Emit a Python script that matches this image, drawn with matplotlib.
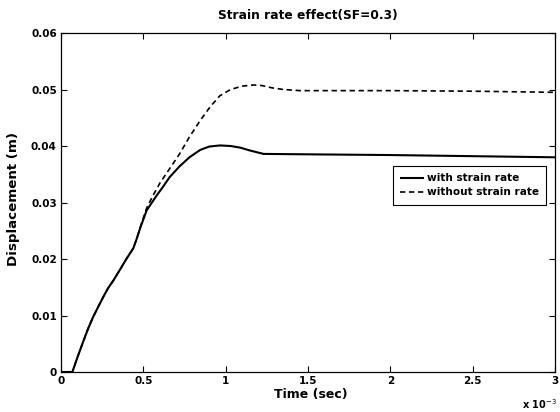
import numpy as np
import matplotlib
matplotlib.use("Agg")
import matplotlib.pyplot as plt
from matplotlib.ticker import FuncFormatter, MultipleLocator

# ---- data (time in ms, displacement in m) ----
t_with_ms = [0.0, 0.069, 0.10, 0.135, 0.165, 0.196, 0.227, 0.257, 0.285, 0.318,
             0.36, 0.399, 0.439, 0.46, 0.48, 0.52, 0.58, 0.62, 0.66, 0.72,
             0.78, 0.845, 0.90, 0.965, 1.03, 1.09, 1.148, 1.23, 1.6, 2.0,
             2.5, 3.0]
d_with = [0.0, 0.0, 0.0026, 0.0054, 0.0077, 0.0098, 0.0116, 0.0133, 0.0148, 0.0162,
          0.0182, 0.0201, 0.0219, 0.0236, 0.0254, 0.0286, 0.0312, 0.0328, 0.0345, 0.0364,
          0.0380, 0.0393, 0.0399, 0.0401, 0.0400, 0.0397, 0.0392, 0.0386, 0.0385, 0.0384,
          0.0382, 0.0380]

t_without_ms = [0.0, 0.069, 0.10, 0.135, 0.165, 0.196, 0.227, 0.257, 0.285, 0.318,
                0.36, 0.399, 0.439, 0.46, 0.48, 0.52, 0.56, 0.60, 0.66, 0.72,
                0.78, 0.845, 0.905, 0.965, 1.03, 1.10, 1.17, 1.22, 1.28, 1.35,
                1.45, 2.0, 2.5, 3.0]
d_without = [0.0, 0.0, 0.0026, 0.0054, 0.0077, 0.0098, 0.0116, 0.0133, 0.0148, 0.0162,
             0.0182, 0.0201, 0.0219, 0.0236, 0.0255, 0.0290, 0.0313, 0.0334, 0.0360, 0.0386,
             0.0416, 0.0445, 0.0469, 0.0489, 0.0500, 0.0506, 0.0508, 0.0507, 0.0503, 0.0500,
             0.0498, 0.0498, 0.0497, 0.0495]

labels = ["with strain rate", "without strain rate"]
title = "Strain rate effect(SF=0.3)"
xlabel = "Time (sec)"
ylabel = "Displacement (m)"

t_with = np.array(t_with_ms) * 1e-3
t_without = np.array(t_without_ms) * 1e-3

# ---- figure ----
plt.rcParams['font.family'] = ['DejaVu Sans']
fig = plt.figure(figsize=(5.6, 4.12), dpi=100)
ax = fig.add_axes([61/560, 1 - 372/412, (555-61)/560, (372-33)/412])

ax.plot(t_with, d_with, color='black', lw=1.5, solid_capstyle='butt', label=labels[0])
ax.plot(t_without, d_without, color='black', lw=1.2, dashes=(3.2, 2.2), label=labels[1])

ax.set_xlim(0, 3e-3)
ax.set_ylim(0, 0.06)
ax.xaxis.set_major_locator(MultipleLocator(0.5e-3))
ax.yaxis.set_major_locator(MultipleLocator(0.01))
ax.xaxis.set_major_formatter(FuncFormatter(lambda v, p: "%g" % round(v * 1e3, 3)))
ax.yaxis.set_major_formatter(FuncFormatter(lambda v, p: "%g" % round(v, 4)))

ax.tick_params(direction='in', length=4, width=0.8, top=True, right=True,
               labelsize=7.5, pad=3)
for lab in ax.get_xticklabels() + ax.get_yticklabels():
    lab.set_fontweight('bold')
for s in ax.spines.values():
    s.set_linewidth(0.9)
    s.set_color('black')

ax.set_title(title, fontsize=8.8, fontweight='bold', pad=10)
ax.set_xlabel(xlabel, fontsize=9, fontweight='bold')
ax.xaxis.set_label_coords((311-61)/494, -0.047)
ax.set_ylabel(ylabel, fontsize=9.6, fontweight='bold')
ax.yaxis.set_label_coords(-0.084, 0.51)

fig.text(522/560, 1 - 409/412, "x 10$^{-3}$", fontsize=7, fontweight='bold',
         ha='left', va='baseline')

leg = ax.legend(loc='upper right', bbox_to_anchor=(0.982, 0.608), borderaxespad=0,
                fancybox=False, frameon=True, edgecolor='black', framealpha=1,
                prop={'size': 7.6, 'weight': 'bold'}, handlelength=2.3,
                handletextpad=0.2, borderpad=0.7, labelspacing=0.4)
leg.get_frame().set_linewidth(0.8)

fig.savefig("out.png", dpi=100)
